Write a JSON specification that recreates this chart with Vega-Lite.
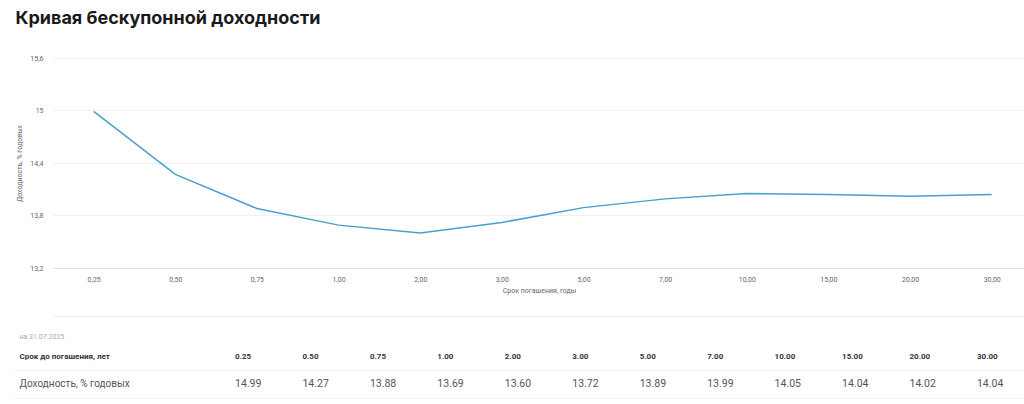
{
  "$schema": "https://vega.github.io/schema/vega-lite/v6.json",
  "padding": {"left": 13, "top": 10, "right": 0, "bottom": 0},
  "background": "white",
  "title": {"text": "Кривая бескупонной доходности", "anchor": "start", "fontSize": 18, "fontWeight": 700, "font": "Inter", "color": "#1a1a1a", "dx": 2, "offset": 26},
  "data": {"values": [
    {"tenor": 0.25, "yield": 14.99},
    {"tenor": 0.5, "yield": 14.27},
    {"tenor": 0.75, "yield": 13.88},
    {"tenor": 1, "yield": 13.69},
    {"tenor": 2, "yield": 13.60},
    {"tenor": 3, "yield": 13.72},
    {"tenor": 5, "yield": 13.89},
    {"tenor": 7, "yield": 13.99},
    {"tenor": 10, "yield": 14.05},
    {"tenor": 15, "yield": 14.04},
    {"tenor": 20, "yield": 14.02},
    {"tenor": 30, "yield": 14.04}
  ]},
  "vconcat": [
    {
      "width": 972,
      "height": 210,
      "mark": {"type": "line", "color": "#479fce", "strokeWidth": 1.5},
      "encoding": {
        "x": {"field": "tenor", "type": "ordinal", "sort": "ascending",
          "scale": {"type": "point", "padding": 0.453, "align": 0.55},
          "axis": {"title": "Срок погашения, годы", "labelAngle": 0, "ticks": false, "domain": true, "domainColor": "#d9e5ee", "grid": false,
            "labelExpr": "replace(format(datum.value, '.2f'), '.', ',')",
            "labelFont": "Roboto", "labelFontSize": 7, "labelColor": "#666", "labelPadding": 7,
            "titleFont": "Roboto", "titleFontSize": 7, "titleFontWeight": "normal", "titleColor": "#666", "titlePadding": 4}},
        "y": {"field": "yield", "type": "quantitative",
          "scale": {"domain": [13.2, 15.6], "zero": false, "nice": false},
          "axis": {"title": "Доходность, % годовых", "values": [13.2, 13.8, 14.4, 15, 15.6], "ticks": false, "domain": false,
            "gridColor": "#f0f0f0", "gridWidth": 1,
            "labelExpr": "replace(format(datum.value, '~g'), '.', ',')",
            "labelFont": "Roboto", "labelFontSize": 7, "labelColor": "#666", "labelPadding": 10,
            "titleFont": "Roboto", "titleFontSize": 7, "titleFontWeight": "normal", "titleColor": "#666", "titlePadding": 7}}
      }
    },
    {
      "width": 972,
      "height": 82,
      "layer": [
        {
          "mark": {"type": "text", "align": "left", "font": "Roboto", "fontSize": 8, "fontWeight": "bold", "color": "#333"},
          "encoding": {
            "x": {"field": "tenor", "type": "ordinal",
              "scale": {"type": "point", "domain": [-2, -1, 0.25, 0.5, 0.75, 1, 2, 3, 5, 7, 10, 15, 20, 30], "padding": 0.705, "align": 0.495},
              "axis": {"orient": "top", "title": null, "labels": false, "ticks": false, "grid": false, "domain": true, "domainColor": "#eeeeee"}},
            "y": {"datum": "Срок до погашения, лет", "type": "nominal",
              "scale": {"type": "band", "domain": ["на 31.07.2025", "Срок до погашения, лет", "Доходность, % годовых"], "paddingInner": 0, "paddingOuter": 0},
              "axis": {"title": null, "domain": false, "ticks": true, "tickSize": 39, "tickColor": "#eeeeee", "grid": true, "bandPosition": 1,
                "gridColor": "#eeeeee",
                "gridOpacity": {"condition": {"test": "datum.value === 'на 31.07.2025'", "value": 0}, "value": 1},
                "tickOpacity": {"condition": {"test": "datum.value === 'на 31.07.2025'", "value": 0}, "value": 1},
                "labelAlign": "left", "labelPadding": -5, "labelFont": "Roboto",
                "labelFontSize": {"condition": [{"test": "datum.value === 'на 31.07.2025'", "value": 7}, {"test": "datum.value === 'Срок до погашения, лет'", "value": 8}], "value": 10},
                "labelFontWeight": {"condition": {"test": "datum.value === 'Срок до погашения, лет'", "value": "bold"}, "value": "normal"},
                "labelColor": {"condition": [{"test": "datum.value === 'на 31.07.2025'", "value": "#aaaaaa"}, {"test": "datum.value === 'Срок до погашения, лет'", "value": "#333333"}], "value": "#555555"},
                "labelOffset": {"condition": {"test": "datum.value === 'на 31.07.2025'", "value": 7}, "value": 0}}},
            "text": {"field": "tenor", "type": "quantitative", "format": ".2f"}
          }
        },
        {
          "mark": {"type": "text", "align": "left", "font": "Roboto", "fontSize": 10.5, "color": "#555"},
          "encoding": {
            "x": {"field": "tenor", "type": "ordinal"},
            "y": {"datum": "Доходность, % годовых", "type": "nominal"},
            "text": {"field": "yield", "type": "quantitative", "format": ".2f"}
          }
        }
      ]
    }
  ],
  "spacing": 23,
  "config": {"view": {"stroke": null}}
}
